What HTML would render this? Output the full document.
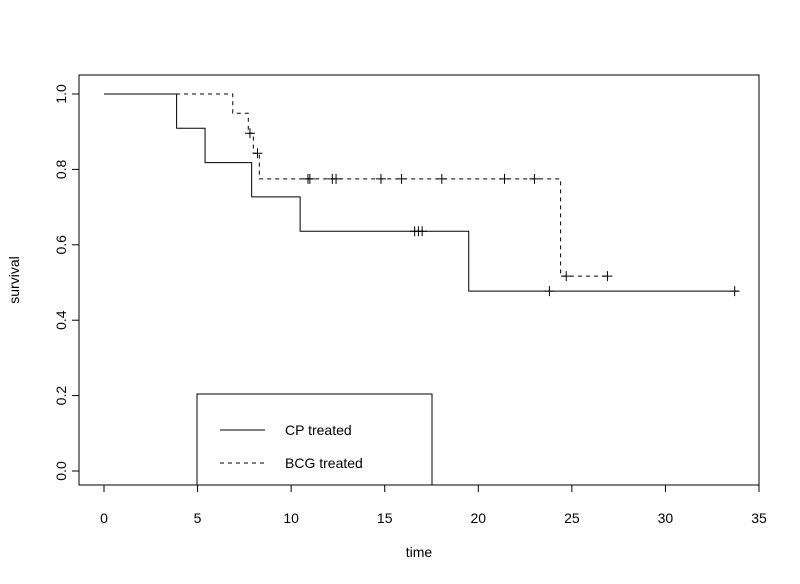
<!DOCTYPE html>
<html><head><meta charset="utf-8"><style>
html,body{margin:0;padding:0;background:#fff;}
svg{display:block;font-family:"Liberation Sans",Arial,sans-serif;}
</style></head><body>
<svg id="chart" width="800" height="584">
<rect x="79" y="75" width="680" height="410" fill="none" stroke="#000" stroke-width="1"/>
<g id="axes"></g>
<g id="series"></g>
<text x="419" y="557" font-size="14" text-anchor="middle">time</text>
<text transform="translate(19,280) rotate(-90)" font-size="14" text-anchor="middle">survival</text>
<g>
<rect x="197" y="394" width="235" height="91" fill="#fff" stroke="#000"/>
<line x1="220" y1="430" x2="265" y2="430" stroke="#000"/>
<text x="285" y="435" font-size="14">CP treated</text>
<line x1="220" y1="463" x2="265" y2="463" stroke="#000" stroke-dasharray="4,4"/>
<text x="285" y="468" font-size="14">BCG treated</text>
</g>
</svg>
<script>
const xTicks=[0,5,10,15,20,25,30,35];
const yTicks=[0.0,0.2,0.4,0.6,0.8,1.0];
const cpTimes=[3.88,5.4,7.89,10.48,19.49];
const cpSurv=[0.909,0.818,0.727,0.636,0.477];
const cpCensorT=[16.6,16.8,17.0,23.8,33.7];
const cpEnd=33.9;
const bcgTimes=[6.88,7.71,7.98,8.3,24.4];
const bcgSurv=[0.949,0.896,0.843,0.775,0.517];
const bcgCensorT=[7.8,8.2,10.9,11.0,12.2,12.4,14.8,15.9,18.05,21.4,23.0,24.7,26.9];
const bcgEnd=26.9;
const NS="http://www.w3.org/2000/svg";
const X=t=>104+t*(655/35);
const Y=s=>471-s*377;
function mk(tag,attrs,parent){const e=document.createElementNS(NS,tag);for(const k in attrs)e.setAttribute(k,attrs[k]);parent.appendChild(e);return e;}
const axes=document.getElementById('axes');
mk('line',{x1:X(0),x2:X(35),y1:485,y2:485,stroke:'#000'},axes);
xTicks.forEach(t=>{
 const l=mk('line',{x1:X(t),x2:X(t),y1:485,y2:492,stroke:'#000'},axes);
 
 
 const tx=mk('text',{x:X(t),y:523,'font-size':14,'text-anchor':'middle'},axes);tx.textContent=t;
 
 
});
mk('line',{x1:79,x2:79,y1:Y(0),y2:Y(1),stroke:'#000'},axes);
yTicks.forEach(v=>{
 const l=mk('line',{x1:72,x2:79,y1:Y(v),y2:Y(v),stroke:'#000'},axes);
 
 
 const tx=mk('text',{transform:`translate(66,${Y(v)}) rotate(-90)`,'font-size':14,'text-anchor':'middle'},axes);tx.textContent=v.toFixed(1);
 
 
});
function survAt(times,surv,t){let s=1;for(let i=0;i<times.length;i++)if(times[i]<=t)s=surv[i];return s;}
function drawCurve(times,surv,cens,end,dash,name){
 const g=document.getElementById('series');
 let d=`M${X(0)},${Y(1)}`;let s=1;
 times.forEach((t,i)=>{d+=` H${X(t)} V${Y(surv[i])}`;s=surv[i];});
 d+=` H${X(end)}`;
 const p=mk('path',{d:d,fill:'none',stroke:'#000','stroke-width':1},g);
 if(dash)p.setAttribute('stroke-dasharray','4,4');
 
 
 cens.forEach(t=>{
  const x=X(t),y=Y(survAt(times,surv,t));
  const c=mk('path',{d:`M${x-5},${y} H${x+5} M${x},${y-5} V${y+5}`,stroke:'#000','stroke-width':1},g);
  
  
 });
}
drawCurve(cpTimes,cpSurv,cpCensorT,cpEnd,false,'cp');
drawCurve(bcgTimes,bcgSurv,bcgCensorT,bcgEnd,true,'bcg');
</script>
</body></html>
